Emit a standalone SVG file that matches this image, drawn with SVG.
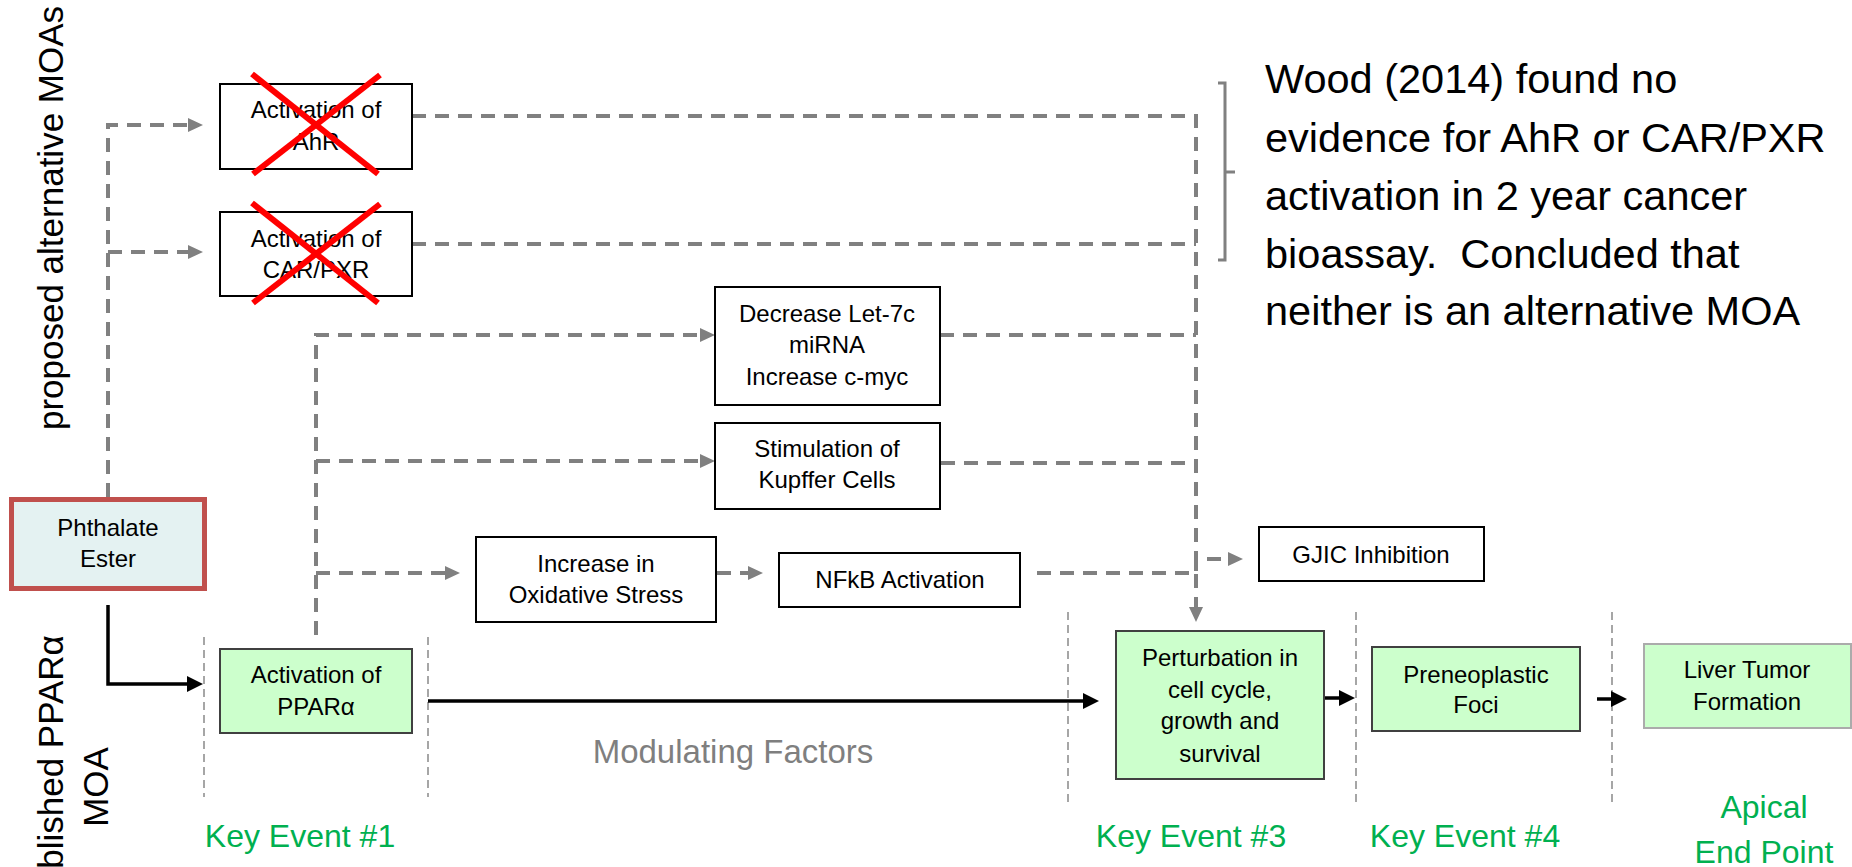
<svg xmlns="http://www.w3.org/2000/svg" width="1852" height="867" viewBox="0 0 1852 867">
  <style>
    text { font-family: "Liberation Sans", Arial, sans-serif; fill: #000; }
    .box { font-size: 24px; text-anchor: middle; }
    .plain { fill: #fff; stroke: #000; stroke-width: 2; }
    .ke { fill: #CCFFCC; stroke: #404040; stroke-width: 2; }
    .dash { fill: none; stroke: #808080; stroke-width: 4; stroke-dasharray: 14 9; }
    .solid { fill: none; stroke: #000; stroke-width: 3.5; }
    .guide { fill: none; stroke: #A6A6A6; stroke-width: 2; stroke-dasharray: 8 5; }
    .cross { stroke: #FF0000; stroke-width: 6; }
    .green { fill: #00B050; font-size: 32px; text-anchor: middle; }
    .side { font-size: 35px; text-anchor: middle; }
    .note { font-size: 41.5px; white-space: pre; }
  </style>
  <defs>
    <marker id="grayHead" markerUnits="userSpaceOnUse" markerWidth="16" markerHeight="16" refX="11" refY="7" orient="auto">
      <path d="M0,0 L15,7 L0,14 Z" fill="#808080"/>
    </marker>
    <marker id="blackHead" markerUnits="userSpaceOnUse" markerWidth="17" markerHeight="18" refX="12" refY="8" orient="auto">
      <path d="M0,0 L16,8 L0,16 Z" fill="#000"/>
    </marker>
  </defs>

  <!-- side labels -->
  <text class="side" transform="translate(63,218) rotate(-90)">proposed alternative MOAs</text>
  <g transform="translate(63,787) rotate(-90)">
    <text class="side" x="0" y="0">Established PPARα</text>
    <text class="side" x="0" y="45">MOA</text>
  </g>

  <!-- key event guides -->
  <g id="guides">
    <line class="guide" x1="204" y1="637" x2="204" y2="797"/>
    <line class="guide" x1="428" y1="637" x2="428" y2="797"/>
    <line class="guide" x1="1068" y1="612" x2="1068" y2="803"/>
    <line class="guide" x1="1356" y1="612" x2="1356" y2="803"/>
    <line class="guide" x1="1612" y1="612" x2="1612" y2="803"/>
  </g>

  <!-- connectors -->
  <g id="connectors">
    <path class="dash" d="M108,497 V125 H199" marker-end="url(#grayHead)"/>
    <path class="dash" d="M108,252 H199" marker-end="url(#grayHead)"/>
    <path class="dash" d="M412,116 H1196 V618" marker-end="url(#grayHead)"/>
    <path class="dash" d="M412,244 H1196"/>
    <path class="dash" d="M940,335 H1196"/>
    <path class="dash" d="M941,463 H1196"/>
    <path class="dash" d="M316,635 V335 H711" marker-end="url(#grayHead)"/>
    <path class="dash" d="M316,461 H711" marker-end="url(#grayHead)"/>
    <path class="dash" d="M316,573 H456" marker-end="url(#grayHead)"/>
    <path class="dash" d="M717,573 H759" marker-end="url(#grayHead)"/>
    <path class="dash" d="M1037,573 H1196 V559 H1239" marker-end="url(#grayHead)"/>
    <path class="solid" d="M108,605 V684 H199" marker-end="url(#blackHead)"/>
    <path class="solid" d="M428,701 H1095" marker-end="url(#blackHead)"/>
    <path class="solid" d="M1324,698 H1351" marker-end="url(#blackHead)"/>
    <path class="solid" d="M1597,699 H1623" marker-end="url(#blackHead)"/>
  </g>

  <!-- nodes -->
  <g id="ahr">
    <rect class="plain" x="220" y="84" width="192" height="85"/>
    <text class="box" x="316" y="118">Activation of</text>
    <text class="box" x="316" y="150">AhR</text>
    <line class="cross" x1="252" y1="74" x2="378" y2="174"/>
    <line class="cross" x1="380" y1="75" x2="253" y2="174"/>
  </g>
  <g id="carpxr">
    <rect class="plain" x="220" y="212" width="192" height="84"/>
    <text class="box" x="316" y="247">Activation of</text>
    <text class="box" x="316" y="278">CAR/PXR</text>
    <line class="cross" x1="252" y1="203" x2="378" y2="303"/>
    <line class="cross" x1="380" y1="204" x2="253" y2="303"/>
  </g>
  <g id="phthalate">
    <rect x="11.5" y="499.5" width="193" height="89" fill="#E4F2F2" stroke="#C0504D" stroke-width="5"/>
    <text class="box" x="108" y="536">Phthalate</text>
    <text class="box" x="108" y="567">Ester</text>
  </g>
  <g id="ppara">
    <rect class="ke" x="220" y="649" width="192" height="84"/>
    <text class="box" x="316" y="683">Activation of</text>
    <text class="box" x="316" y="715">PPARα</text>
  </g>
  <g id="let7c">
    <rect class="plain" x="715" y="287" width="225" height="118"/>
    <text class="box" x="827" y="322">Decrease Let-7c</text>
    <text class="box" x="827" y="353">miRNA</text>
    <text class="box" x="827" y="385">Increase c-myc</text>
  </g>
  <g id="kupffer">
    <rect class="plain" x="715" y="423" width="225" height="86"/>
    <text class="box" x="827" y="457">Stimulation of</text>
    <text class="box" x="827" y="488">Kupffer Cells</text>
  </g>
  <g id="oxidative">
    <rect class="plain" x="476" y="537" width="240" height="85"/>
    <text class="box" x="596" y="572">Increase in</text>
    <text class="box" x="596" y="603">Oxidative Stress</text>
  </g>
  <g id="nfkb">
    <rect class="plain" x="779" y="553" width="241" height="54"/>
    <text class="box" x="900" y="588">NFkB Activation</text>
  </g>
  <g id="gjic">
    <rect class="plain" x="1259" y="527" width="225" height="54"/>
    <text class="box" x="1371" y="563">GJIC Inhibition</text>
  </g>
  <g id="perturbation">
    <rect class="ke" x="1116" y="631" width="208" height="148"/>
    <text class="box" x="1220" y="666">Perturbation in</text>
    <text class="box" x="1220" y="698">cell cycle,</text>
    <text class="box" x="1220" y="729">growth and</text>
    <text class="box" x="1220" y="762">survival</text>
  </g>
  <g id="preneoplastic">
    <rect class="ke" x="1372" y="647" width="208" height="84"/>
    <text class="box" x="1476" y="683">Preneoplastic</text>
    <text class="box" x="1476" y="713">Foci</text>
  </g>
  <g id="tumor">
    <rect x="1644" y="644" width="207" height="84" fill="#CCFFCC" stroke="#ABABAB" stroke-width="2"/>
    <text class="box" x="1747" y="678">Liver Tumor</text>
    <text class="box" x="1747" y="710">Formation</text>
  </g>

  <!-- stage labels -->
  <text class="green" x="300" y="847">Key Event #1</text>
  <text class="green" x="1191" y="847">Key Event #3</text>
  <text class="green" x="1465" y="847">Key Event #4</text>
  <text class="green" x="1764" y="818">Apical</text>
  <text class="green" x="1764" y="863">End Point</text>
  <text x="733" y="763" font-size="33" text-anchor="middle" style="fill:#7F7F7F">Modulating Factors</text>

  <!-- bracket and note -->
  <path d="M1218,83 H1225 V260 H1218 M1225,172 H1235" fill="none" stroke="#808080" stroke-width="3"/>
  <g>
    <text class="note" x="1265" y="93">Wood (2014) found no</text>
    <text class="note" x="1265" y="152">evidence for AhR or CAR/PXR</text>
    <text class="note" x="1265" y="210">activation in 2 year cancer</text>
    <text class="note" x="1265" y="268" xml:space="preserve">bioassay.  Concluded that</text>
    <text class="note" x="1265" y="325">neither is an alternative MOA</text>
  </g>
</svg>
